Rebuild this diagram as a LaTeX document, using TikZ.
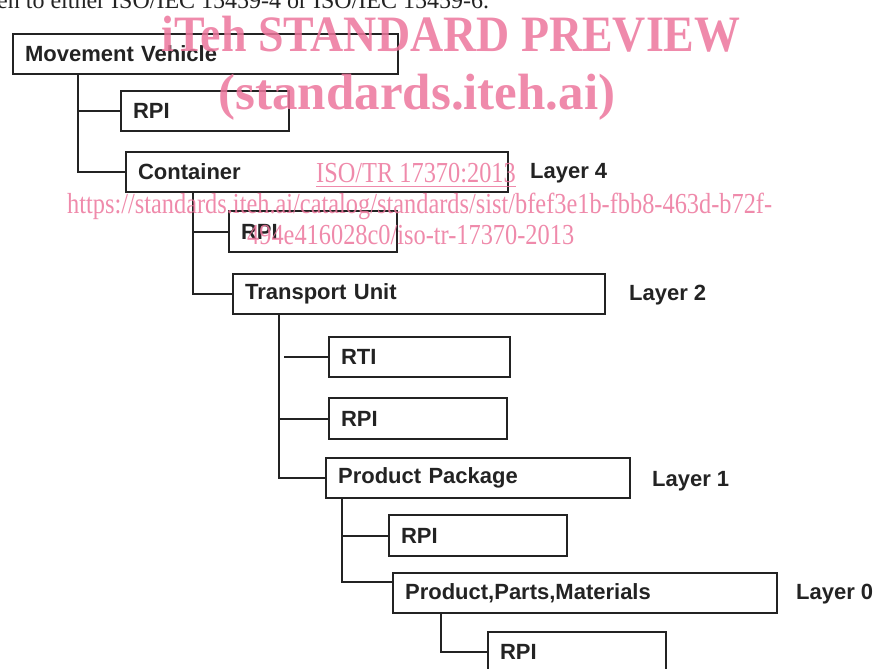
\documentclass[tikz,border=0pt]{standalone}
\usepackage{fontspec}
\newfontfamily\diagfont{Liberation Sans}
\newfontfamily\wmfont{Liberation Serif}
\definecolor{ink}{RGB}{35,35,35}
\definecolor{wmpink}{RGB}{236,118,156}
\begin{document}
\begin{tikzpicture}[x=1pt,y=-1pt,
  box/.style={draw=ink, line width=2.2pt, rectangle, anchor=north west, minimum height=40pt,
    inner xsep=12pt, inner ysep=0pt, align=left, text=ink,
    font=\diagfont\bfseries\fontsize{22}{24}\selectfont},
  lay/.style={anchor=west, inner sep=0pt, text=ink, font=\diagfont\bfseries\fontsize{22}{24}\selectfont},
  conn/.style={draw=ink, line width=2.2pt},
  wmbig/.style={text=wmpink, opacity=0.85, inner sep=0pt, anchor=base, font=\wmfont\bfseries\fontsize{51}{51}\selectfont},
  wmsmall/.style={text=wmpink, opacity=0.85, inner sep=0pt, anchor=base west, font=\wmfont\fontsize{29}{29}\selectfont}]
\useasboundingbox (0,0) rectangle (876,669);
\clip (0,0) rectangle (876,669);
% top running text (cut off)
\node[anchor=base west, inner sep=0pt, text=ink, font=\wmfont\fontsize{24}{24}\selectfont] (top) at (-3,9) {en to either ISO/IEC 15459-4 or ISO/IEC 15459-6.};
% boxes
\node[box, text width=361pt] (mv) at (12,33) {Movement Vehicle};
\node[box, text width=144pt] (rpa) at (120,90) {RPI};
\node[box, text width=358pt] (cont) at (125,151) {Container};
\node[box, text width=144pt, minimum height=41pt] (rpb) at (228,210) {RPI};
\node[box, text width=348pt] (tu) at (232,273) {Transport Unit};
\node[box, text width=157pt] (rti) at (328,336) {RTI};
\node[box, text width=154pt, minimum height=41pt] (rpc) at (328,397) {RPI};
\node[box, text width=280pt] (pp) at (325,457) {Product Package};
\node[box, text width=154pt, minimum height=41pt] (rpd) at (388,514) {RPI};
\node[box, text width=360pt] (ppm) at (392,572) {Product,Parts,Materials};
\node[box, text width=154pt] (rpe) at (487,631) {RPI};
% layer labels
\node[lay] (l4) at (530,173) {Layer 4};
\node[lay] (l2) at (629,295) {Layer 2};
\node[lay] (l1) at (652,481) {Layer 1};
\node[lay] (l0) at (796,594) {Layer 0};
% connectors
\coordinate (v1) at ([xshift=66pt]mv.south west);
\draw[conn] (v1) |- (cont.west);
\draw[conn] (v1 |- rpa.west) -- (rpa.west);
\coordinate (v2) at ([xshift=68pt]cont.south west);
\draw[conn] (v2) |- (tu.west);
\draw[conn] (v2 |- rpb.west) -- (rpb.west);
\coordinate (v3) at ([xshift=47pt]tu.south west);
\draw[conn] (v3) |- (pp.west);
\draw[conn] ([xshift=5pt]v3 |- rti.west) -- (rti.west);
\draw[conn] (v3 |- rpc.west) -- (rpc.west);
\coordinate (v4) at ([xshift=17pt]pp.south west);
\coordinate (p4) at ([yshift=-10pt]ppm.north west);
\draw[conn] (v4) |- (p4);
\draw[conn] (v4 |- rpd.west) -- (rpd.west);
\coordinate (v5) at ([xshift=49pt]ppm.south west);
\draw[conn] (v5) |- (rpe.west);
% watermark
\node[wmbig] (w1) at (451,52) {\scalebox{0.9}[1]{iTeh STANDARD PREVIEW}};
\node[wmbig] (w2) at (417,110) {(standards.iteh.ai)};
\node[wmsmall] (w3) at (316,182) {\scalebox{0.84}[1]{ISO/TR 17370:2013}};
\draw[wmpink, opacity=0.85, line width=1pt] ([yshift=-4pt]w3.base west) -- ([yshift=-4pt]w3.base east);
\node[wmsmall] (w4) at (67,213) {\scalebox{0.84}[1]{https://standards.iteh.ai/catalog/standards/sist/bfef3e1b-fbb8-463d-b72f-}};
\node[wmsmall] (w5) at (247,244) {\scalebox{0.84}[1]{494e416028c0/iso-tr-17370-2013}};
\end{tikzpicture}
\end{document}
